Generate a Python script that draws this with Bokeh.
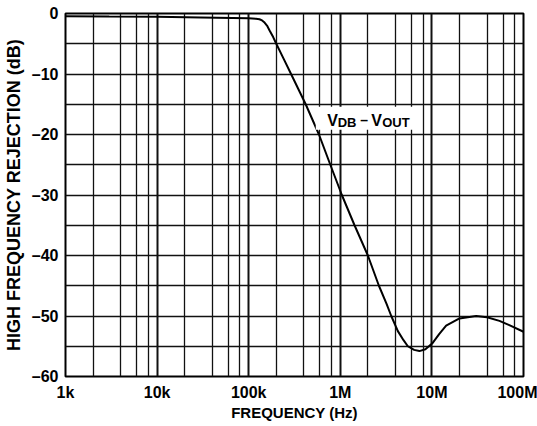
from bokeh.plotting import figure
from bokeh.models import FixedTicker, Label, BoxAnnotation, ColumnDataSource
from bokeh.embed import file_html
from bokeh.resources import INLINE

# ---- data ----
FREQ_HZ = [1e3, 3e3, 1e4, 3e4, 1e5, 1.2e5, 1.31e5, 1.4e5, 1.49e5, 1.6e5, 1.69e5,
           1.85e5, 2.0e5, 2.41e5, 2.9e5, 4.19e5, 5.85e5, 7.78e5, 1.04e6, 1.43e6,
           2.0e6, 2.64e6, 3.2e6, 3.6e6, 4.25e6, 4.9e6, 5.46e6, 6.4e6, 7.3e6, 8.5e6, 1.02e7,
           1.2e7, 1.43e7, 2.0e7, 3.04e7, 4.0e7, 5.46e7, 7.0e7, 1e8]
REJECTION_DB = [-0.45, -0.5, -0.55, -0.65, -0.8, -0.88, -0.95, -1.15, -1.5, -2.1, -2.8,
                -3.9, -5.0, -7.5, -10.0, -15.0, -20.0, -25.0, -30.0, -35.0,
                -40.0, -45.0, -48.0, -50.0, -52.5, -54.0, -55.0, -55.6, -55.8, -55.5, -54.45,
                -53.0, -51.6, -50.4, -50.0, -50.2, -50.8, -51.5, -52.6]

X_TICKS = [1e3, 1e4, 1e5, 1e6, 1e7, 1e8]
X_TICK_LABELS = ["1k", "10k", "100k", "1M", "10M", "100M"]
X_MINOR = [m * d for d in [1e3, 1e4, 1e5, 1e6, 1e7] for m in (2, 4, 6, 8)]
Y_TICKS = [0, -10, -20, -30, -40, -50, -60]
Y_TICK_LABELS = ["0", "\u201310", "\u201320", "\u201330", "\u201340", "\u201350", "\u201360"]
Y_MINOR = [-5, -15, -25, -35, -45, -55]

# curve name pieces: (text, is_subscript)
CURVE_NAME_PARTS = [("V", False), ("DB", True), ("\u2013", False), ("V", False), ("OUT", True)]
NAME_OFFSETS_PX = [0, 10.5, 33, 44, 55]
NAME_SIZES_PX = [16, 13, 14, 16, 13]

FONT = "Liberation Sans"

p = figure(width=537, height=426, x_axis_type="log",
           x_range=(1e3, 1e8), y_range=(-60, 0),
           output_backend="svg", toolbar_location=None,
           min_border_left=64, min_border_right=14,
           min_border_top=13, min_border_bottom=50)
p.background_fill_color = "white"
p.border_fill_color = "white"
p.outline_line_color = "black"
p.outline_line_width = 2

# axes
p.xaxis.ticker = FixedTicker(ticks=X_TICKS, minor_ticks=X_MINOR)
p.yaxis.ticker = FixedTicker(ticks=Y_TICKS, minor_ticks=Y_MINOR)
p.xaxis.major_label_overrides = {t: l for t, l in zip(X_TICKS, X_TICK_LABELS)}
p.yaxis.major_label_overrides = {t: l for t, l in zip(Y_TICKS, Y_TICK_LABELS)}
for ax in (p.xaxis, p.yaxis):
    ax.axis_line_color = None
    ax.major_tick_line_color = None
    ax.minor_tick_line_color = None
    ax.major_tick_out = 0
    ax.major_tick_in = 0
    ax.minor_tick_out = 0
    ax.minor_tick_in = 0
    ax.major_label_text_font = FONT
    ax.major_label_text_font_style = "bold"
    ax.major_label_text_font_size = "16px"
    ax.major_label_text_color = "black"
    ax.axis_label_text_font = FONT
    ax.axis_label_text_font_style = "bold"
    ax.axis_label_text_color = "black"
p.xaxis.axis_label = "FREQUENCY (Hz)"
p.yaxis.axis_label = "HIGH FREQUENCY REJECTION (dB)"
p.xaxis.axis_label_text_font_size = "15px"
p.yaxis.axis_label_text_font_size = "18px"
p.xaxis.major_label_standoff = 7
p.yaxis.major_label_standoff = 7
p.xaxis.axis_label_standoff = 0
p.yaxis.axis_label_standoff = 5

# grid
p.xgrid.grid_line_color = "#111111"
p.xgrid.grid_line_width = 2
p.xgrid.minor_grid_line_color = "#111111"
p.xgrid.minor_grid_line_width = 1.3
p.ygrid.grid_line_color = "#111111"
p.ygrid.grid_line_width = 1.4
p.ygrid.minor_grid_line_color = "#111111"
p.ygrid.minor_grid_line_width = 1.4

src = ColumnDataSource(dict(f=FREQ_HZ, db=REJECTION_DB))
p.line("f", "db", source=src, line_color="black", line_width=2)

# white box behind the curve name
p.add_layout(BoxAnnotation(left=5.4e5, right=7.0e6, top=-15.4, bottom=-19.2,
                           fill_color="white", fill_alpha=1.0, line_color=None))

# curve name with subscripts
x0, y0 = 7.19e5, -17.65
for (txt, sub), off, size in zip(CURVE_NAME_PARTS, NAME_OFFSETS_PX, NAME_SIZES_PX):
    p.add_layout(Label(x=x0, y=y0 - (0.3 if sub else 0.0), x_offset=off, text=txt,
                       text_font=FONT, text_font_style="bold",
                       text_font_size=f"{size}px", text_color="black",
                       text_baseline="alphabetic", text_align="left"))

open("out.html", "w").write(file_html(p, INLINE))
